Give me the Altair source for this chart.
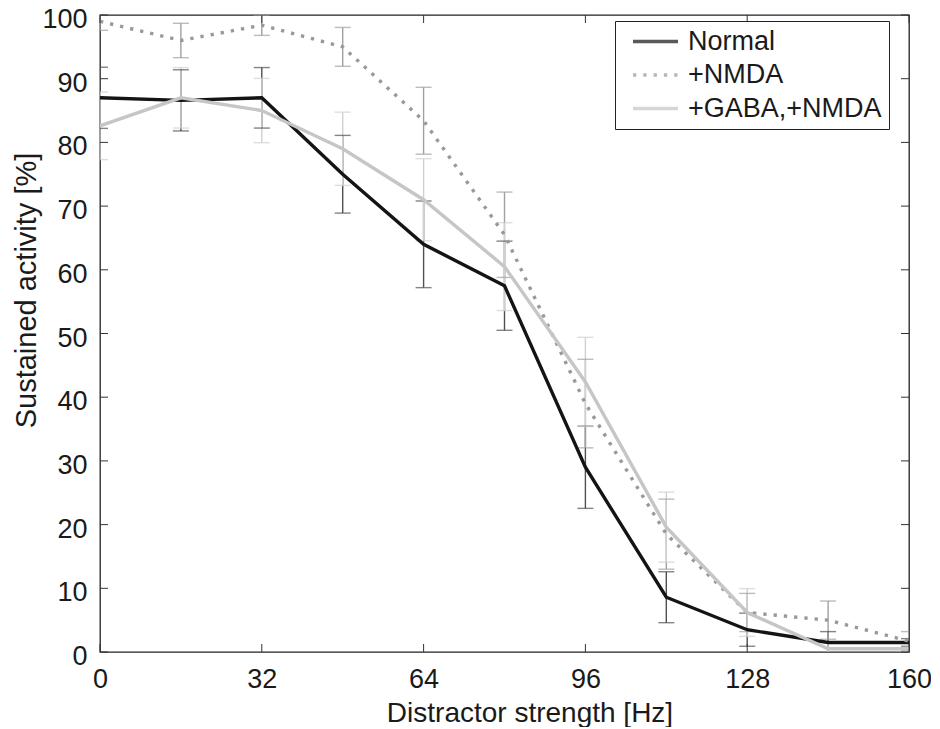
import altair as alt
import pandas as pd

# ---- data ----
X = [0, 16, 32, 48, 64, 80, 96, 112, 128, 144, 160]
SERIES = ["Normal", "+NMDA", "+GABA,+NMDA"]
NORMAL = [87.0, 86.6, 87.0, 75.0, 64.0, 57.5, 29.0, 8.6, 3.5, 1.5, 1.5]
NORMAL_ERR = [4.8, 4.8, 4.75, 6.1, 6.8, 7.0, 6.45, 4.0, 2.6, 1.7, 0.6]
NMDA = [99.0, 96.0, 98.4, 95.0, 83.4, 65.5, 39.0, 18.5, 6.2, 5.0, 1.7]
NMDA_ERR = [1.4, 2.7, 1.6, 3.05, 5.25, 6.7, 6.95, 5.5, 3.0, 3.0, 1.5]
GABA = [82.6, 87.0, 85.0, 79.0, 71.0, 60.5, 42.4, 19.6, 6.2, 0.5, 0.5]
GABA_ERR = [5.3, 4.75, 5.05, 5.75, 6.45, 6.9, 7.0, 5.5, 3.75, 1.1, 0.5]
X_TICKS = [0, 32, 64, 96, 128, 160]
Y_TICKS = [0, 10, 20, 30, 40, 50, 60, 70, 80, 90, 100]

LINE_COLORS = ["#141414", "#999999", "#c6c6c6"]
BAR_COLORS = ["#505050", "#a0a0a0", "#d0d0d0"]
DASHES = [[2000, 0], [3.3, 7], [2000, 0]]

rows, caps = [], []
for s, vals, errs, bc in zip(SERIES, [NORMAL, NMDA, GABA],
                             [NORMAL_ERR, NMDA_ERR, GABA_ERR], BAR_COLORS):
    for x, v, e in zip(X, vals, errs):
        rows.append({"series": s, "x": x, "y": v, "lo": v - e, "hi": v + e, "bar": bc})
        caps.append({"series": s, "x": x, "y": v - e, "bar": bc})
        caps.append({"series": s, "x": x, "y": v + e, "bar": bc})
df = pd.DataFrame(rows)
cdf = pd.DataFrame(caps)
xt = pd.DataFrame({"x": X_TICKS})
yt = pd.DataFrame({"y": Y_TICKS})

W, H = 809, 637
FONT = "Liberation Sans"
xscale = alt.Scale(domain=[0, 160], nice=False, zero=False)
yscale = alt.Scale(domain=[0, 100], nice=False)

xaxis = alt.Axis(values=X_TICKS, ticks=False, tickSize=0, domain=False, grid=False,
                 labelFlush=False,
                 labelFontSize=27, labelFont=FONT, labelPadding=14, labelColor="#1a1a1a",
                 labelBaseline="top",
                 title="Distractor strength [Hz]", titleFont=FONT, titleFontSize=28,
                 titleFontWeight="normal", titleColor="#1a1a1a",
                 titleX=429.5, titleY=69, titleBaseline="alphabetic", titleAlign="center")
yaxis = alt.Axis(values=Y_TICKS, ticks=False, tickSize=0, domain=False, grid=False,
                 labelFlush=False,
                 labelFontSize=27, labelFont=FONT, labelPadding=13, labelOffset=4.5,
                 labelColor="#1a1a1a",
                 title="Sustained activity [%]", titleFont=FONT, titleFontSize=29,
                 titleFontWeight="normal", titleColor="#1a1a1a", titleAngle=270,
                 titleX=-65, titleY=275, titleBaseline="alphabetic", titleAlign="center")

legend = alt.Legend(orient="none", legendX=515, legendY=6, title=None,
                    symbolType="stroke", symbolSize=2025, symbolStrokeWidth=3.3,
                    symbolOpacity=1, symbolOffset=9, clipHeight=27,
                    labelFontSize=27, labelFont=FONT, labelColor="#1a1a1a", labelLimit=400,
                    labelOffset=8, padding=7, rowPadding=5.5,
                    strokeColor="#222222", fillColor="white")

color = alt.Color("series:N", scale=alt.Scale(domain=SERIES, range=LINE_COLORS), legend=legend)
dash = alt.StrokeDash("series:N", scale=alt.Scale(domain=SERIES, range=DASHES), legend=legend)

X_ENC = alt.X("x:Q", scale=xscale, axis=xaxis)
Y_ENC = alt.Y("y:Q", scale=yscale, axis=yaxis)

bars = alt.Chart(df).mark_rule(strokeWidth=1.4, clip=True).encode(
    x=X_ENC,
    y=alt.Y("lo:Q", scale=yscale, axis=yaxis),
    y2="hi:Q",
    color=alt.Color("bar:N", scale=None),
)
capm = alt.Chart(cdf).mark_tick(orient="horizontal", size=16, thickness=1.4, clip=True).encode(
    x=X_ENC, y=Y_ENC,
    color=alt.Color("bar:N", scale=None),
)

lines = []
for s in SERIES:
    lines.append(
        alt.Chart(df).transform_filter(alt.datum.series == s)
        .mark_line(strokeWidth=3.4, clip=True, opacity=1)
        .encode(x=X_ENC, y=Y_ENC, color=color, strokeDash=dash)
    )

TICK_COL = "#333333"
tb = alt.Chart(xt).mark_rule(color=TICK_COL, strokeWidth=1).encode(
    x=X_ENC, y=alt.value(H), y2=alt.value(H - 8))
tt = alt.Chart(xt).mark_rule(color=TICK_COL, strokeWidth=1).encode(
    x=X_ENC, y=alt.value(0), y2=alt.value(8))
tl = alt.Chart(yt).mark_rule(color=TICK_COL, strokeWidth=1).encode(
    y=Y_ENC, x=alt.value(0), x2=alt.value(8))
tr = alt.Chart(yt).mark_rule(color=TICK_COL, strokeWidth=1).encode(
    y=Y_ENC, x=alt.value(W - 8), x2=alt.value(W))

chart = alt.layer(bars, capm, *lines, tb, tt, tl, tr).properties(
    width=W, height=H,
    autosize=alt.AutoSizeParams(type="none"),
    padding={"left": 92, "top": 7, "right": 22, "bottom": 75},
    background="white",
).configure_view(stroke="#222222", strokeWidth=1.3)

chart.save("out.html", embed_options={"renderer": "svg", "actions": False})
